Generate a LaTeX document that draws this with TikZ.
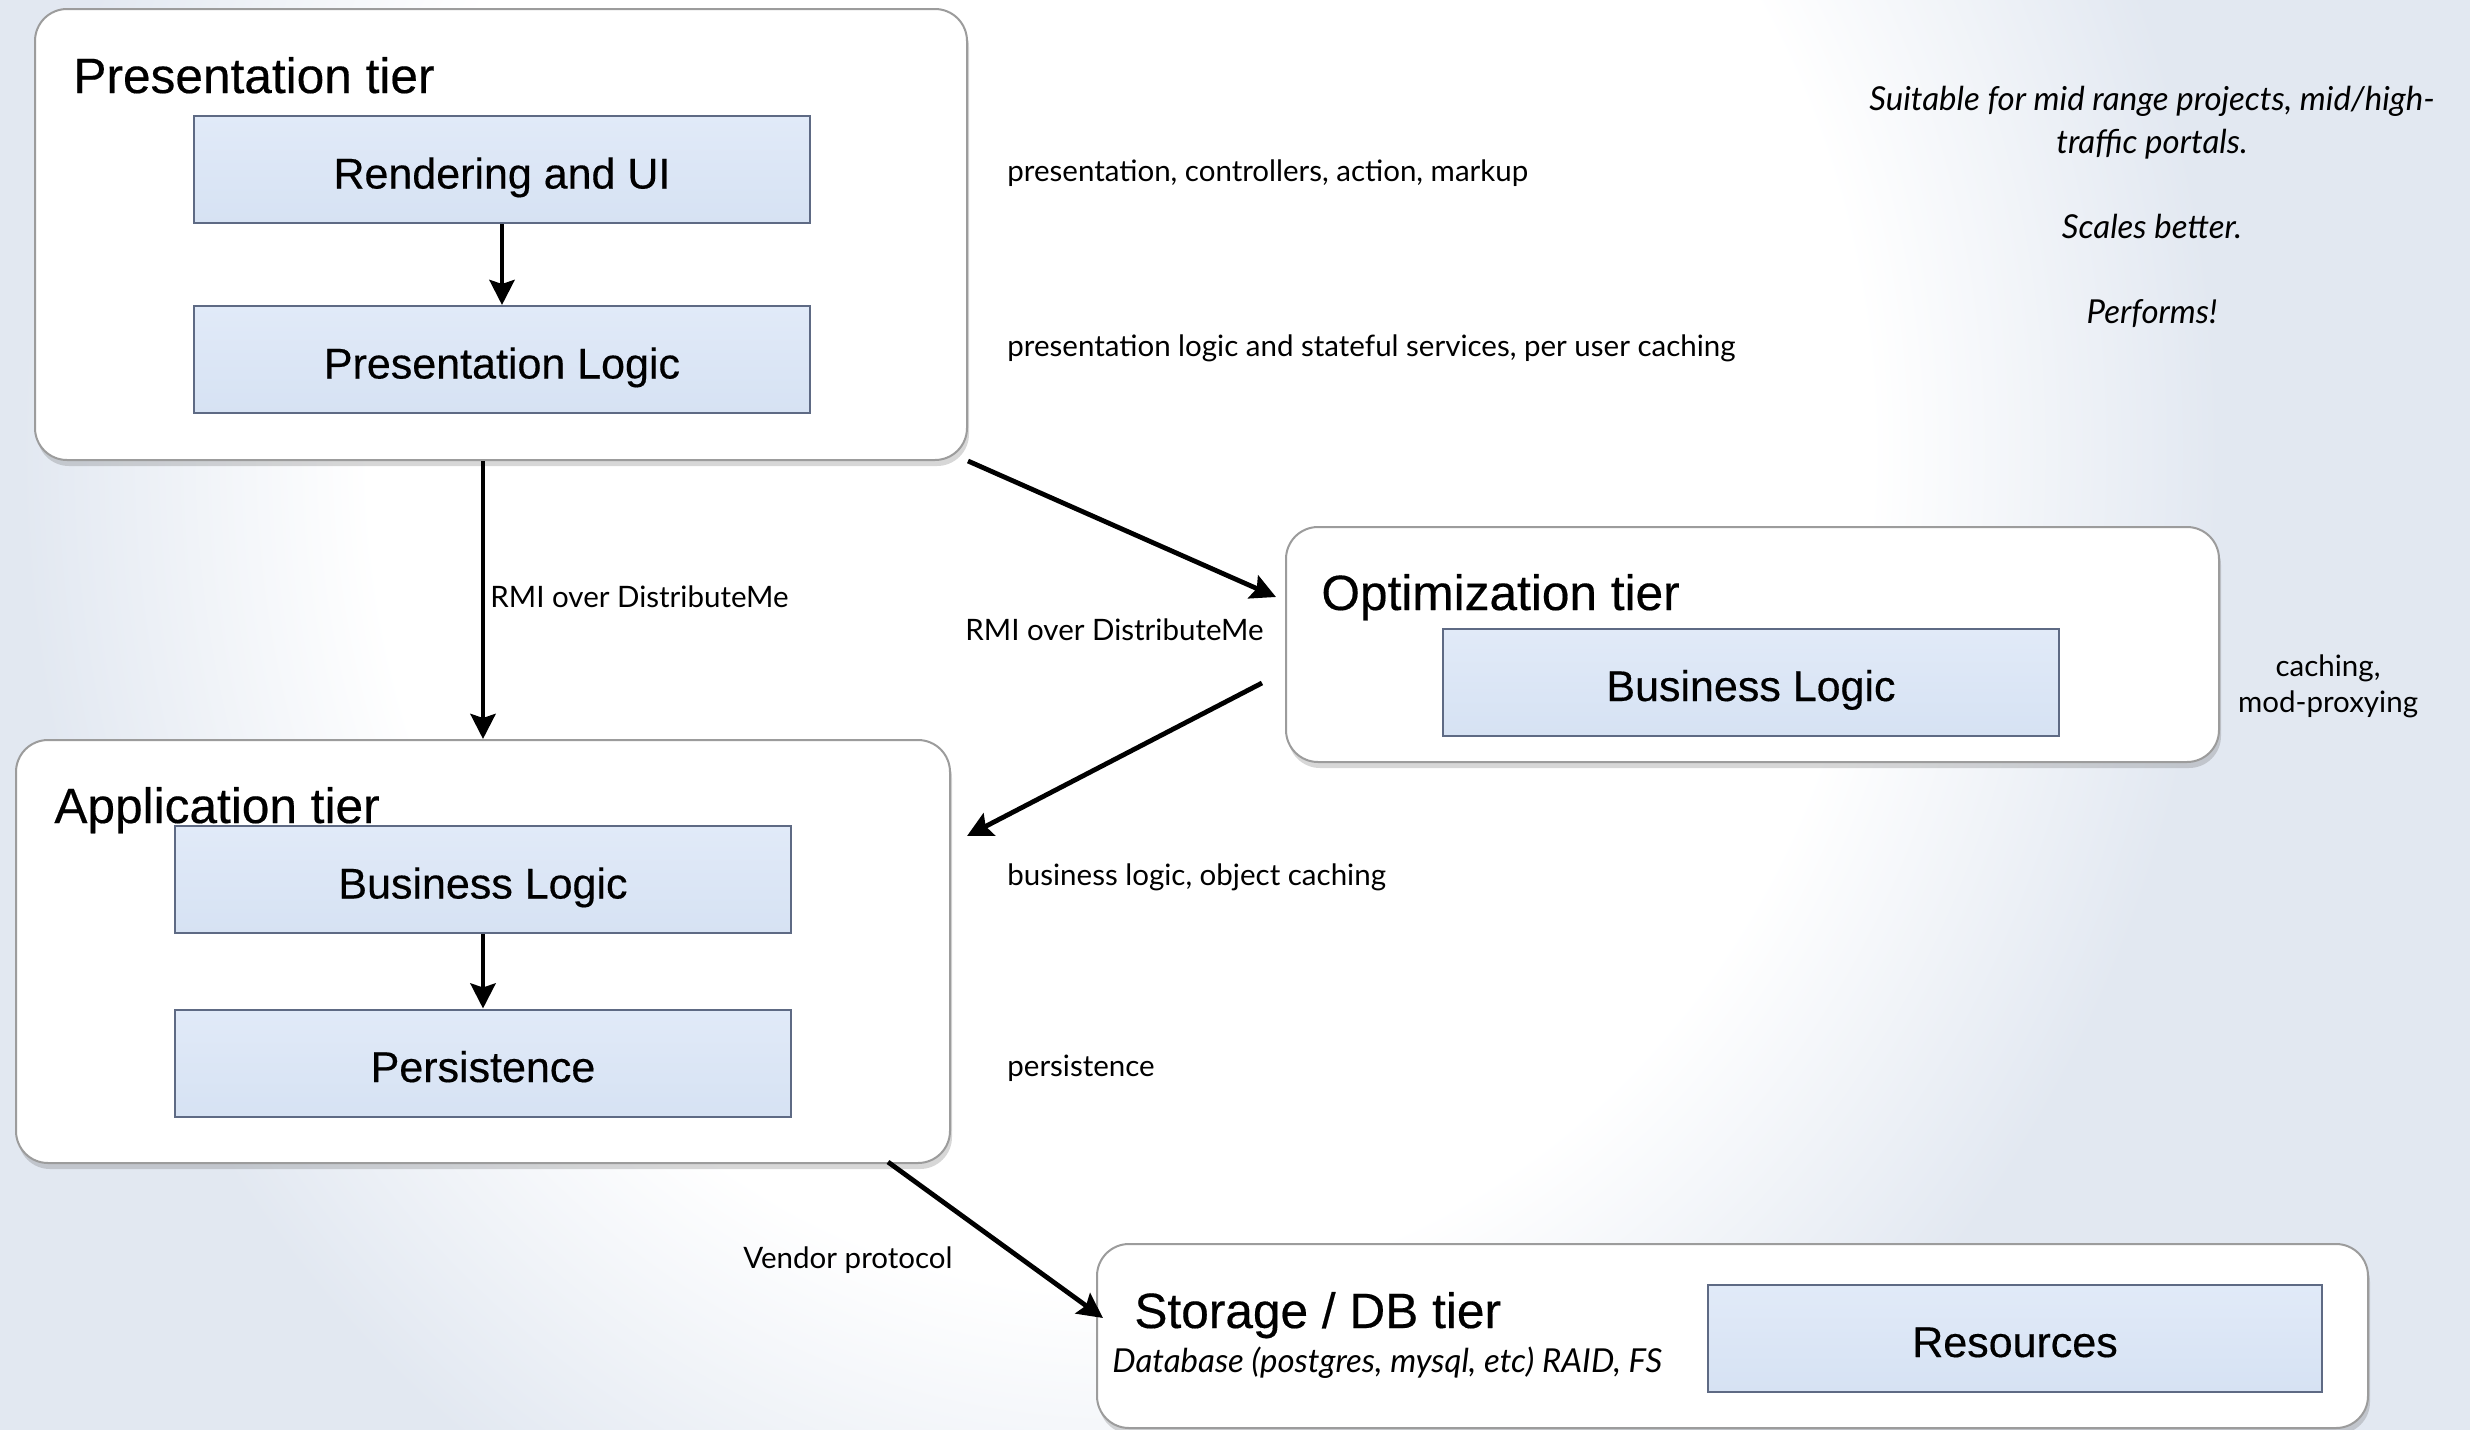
\documentclass[tikz,border=0pt]{standalone}
\usepackage{fontspec}
\setmainfont{Liberation Sans}
\newfontfamily\headfont[FakeBold=0.35]{Liberation Sans}
\newfontfamily\gillfont{Lato}
\usetikzlibrary{shadows,arrows.meta,calc}

\definecolor{bgblue}{HTML}{E2E8F1}
\definecolor{tierline}{HTML}{9C9C9C}
\definecolor{blockline}{HTML}{5E6A84}
\definecolor{blocktop}{HTML}{E1EAF8}
\definecolor{blockbot}{HTML}{D6E2F3}

\pgfdeclareradialshading{bgglow}{\pgfpoint{0bp}{0bp}}{%
  color(0bp)=(white); color(15bp)=(white); color(22bp)=(bgblue); color(50bp)=(bgblue)}

\begin{document}
\begin{tikzpicture}[x=1pt,y=-1pt,
  tier/.style={draw=tierline, line width=1pt, fill=white, rounded corners=16pt,
    inner sep=0pt,
    drop shadow={shadow xshift=1pt, shadow yshift=-3pt, opacity=0.22, fill=black!70}},
  block/.style={draw=blockline, line width=1pt, top color=blocktop, bottom color=blockbot,
    inner sep=0pt, minimum width=308pt, minimum height=53.5pt,
    text height=20pt, text depth=1pt,
    font=\headfont\fontsize{21.5}{26}\selectfont},
  tiertitle/.style={anchor=base west, inner sep=0pt, font=\headfont\fontsize{24.8}{29}\selectfont},
  note/.style={anchor=west, inner sep=0pt, font=\gillfont\fontsize{14.75}{18}\selectfont},
  remark/.style={inner sep=0pt, align=center, font=\gillfont\itshape\fontsize{16.5}{21.3}\selectfont},
  arr/.style={line width=2.4pt, -{Stealth[length=12.5pt,width=12.5pt,inset=2pt]}},
]
\useasboundingbox (0,0) rectangle (1235,715);

% background: white glow on a pale blue ground
\fill[bgblue] (0,0) rectangle (1235,715);
\begin{scope}
  \clip (0,0) rectangle (1235,715);
  \shade[shading=bgglow] (560,225) ellipse [x radius=625, y radius=700];
\end{scope}

% tiers
\node[tier, minimum width=466pt, minimum height=225.5pt] (pres) at (250.5,117.25) {};
\node[tier, minimum width=467pt, minimum height=211.5pt] (app) at (241.5,475.75) {};
\node[tier, minimum width=466.5pt, minimum height=117.5pt] (opt) at (876.25,322.25) {};
\node[tier, minimum width=635.5pt, minimum height=92pt] (store) at (866.25,668) {};

% tier titles
\node[tiertitle] (prestitle) at (36.5,46.5) {Presentation tier};
\node[tiertitle] (apptitle) at (27,411.5) {Application tier};
\node[tiertitle] (opttitle) at (660.5,305) {Optimization tier};
\node[tiertitle] (storetitle) at (567,664) {Storage / DB tier};
\node[anchor=base west, inner sep=0pt, font=\gillfont\itshape\fontsize{16.5}{20}\selectfont]
  (storesub) at (556,686) {Database (postgres, mysql, etc) RAID, FS};

% components
\node[block] (render) at (251,84.75) {Rendering and UI};
\node[block] (plogic) at (251,179.75) {Presentation Logic};
\node[block] (abiz) at (241.5,439.75) {Business Logic};
\node[block] (persist) at (241.5,531.5) {Persistence};
\node[block] (obiz) at (875.5,341) {Business Logic};
\node[block, minimum width=307pt] (res) at (1007.5,669) {Resources};

% arrows inside tiers
\draw[arr] (render) -- (plogic);
\draw[arr] (abiz) -- (persist);

% arrows between tiers
\coordinate (optin) at (638,298.5);
\coordinate (optout) at (631,341.5);
\coordinate (appin) at (483.5,418);
\coordinate (appout) at (444,581);
\coordinate (storein) at (551.5,659);
\draw[arr] (pres.south -| abiz.north) -- (app.north -| abiz.north);
\draw[arr] (pres.south east) -- (optin);
\draw[arr] (optout) -- (appin);
\draw[arr] (appout) -- (storein);

% connector labels
\node[note] (rmi1) at (245,298.5) {RMI over DistributeMe};
\node[note] (rmi2) at (482.5,315) {RMI over DistributeMe};
\node[note] (vendor) at (371.5,630) {Vendor protocol};

% layer notes
\node[note] (n1) at (503.5,86.5) {presentation, controllers, action, markup};
\node[note] (n2) at (503.5,174) {presentation logic and stateful services, per user caching};
\node[note] (n3) at (503.5,438.5) {business logic, object caching};
\node[note] (n4) at (503.5,534) {persistence};
\node[note, anchor=center, align=center] (n5) at (1164,343) {caching,\\mod-proxying};

% summary
\node[remark, anchor=north] (summary) at (1076,43)
  {Suitable for mid range projects, mid/high-\\traffic portals.\\[21.3pt]Scales better.\\[21.3pt]Performs!};
\end{tikzpicture}
\end{document}
